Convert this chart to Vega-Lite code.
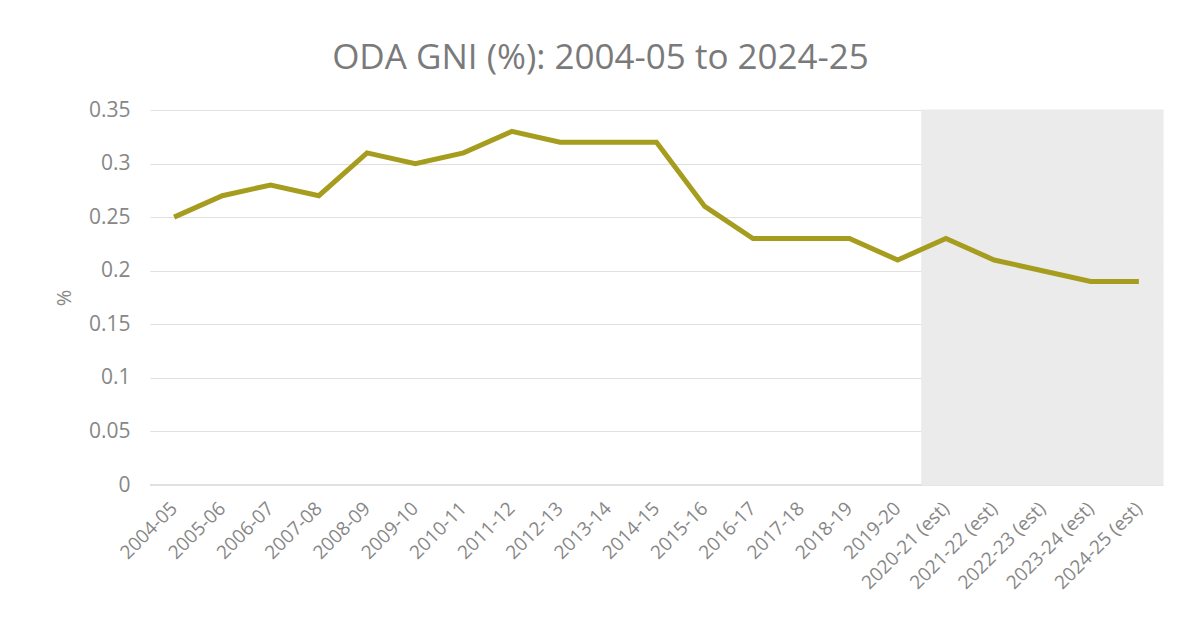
{
  "$schema": "https://vega.github.io/schema/vega-lite/v6.json",
  "width": 1013,
  "height": 375,
  "autosize": {"type": "none"},
  "padding": {"left": 150, "top": 110, "right": 28, "bottom": 147},
  "background": "white",
  "title": {
    "text": "ODA GNI (%): 2004-05 to 2024-25",
    "fontSize": 35,
    "font": "Open Sans",
    "fontWeight": "normal",
    "color": "#7a7a7a",
    "anchor": "middle",
    "dx": -56,
    "offset": 23
  },
  "config": {
    "view": {"stroke": null},
    "axis": {"labelFont": "Open Sans", "titleFont": "Open Sans", "labelColor": "#878787", "titleColor": "#878787"}
  },
  "data": {
    "values": [
      {"year": "2004-05", "value": 0.25, "est": false},
      {"year": "2005-06", "value": 0.27, "est": false},
      {"year": "2006-07", "value": 0.28, "est": false},
      {"year": "2007-08", "value": 0.27, "est": false},
      {"year": "2008-09", "value": 0.31, "est": false},
      {"year": "2009-10", "value": 0.30, "est": false},
      {"year": "2010-11", "value": 0.31, "est": false},
      {"year": "2011-12", "value": 0.33, "est": false},
      {"year": "2012-13", "value": 0.32, "est": false},
      {"year": "2013-14", "value": 0.32, "est": false},
      {"year": "2014-15", "value": 0.32, "est": false},
      {"year": "2015-16", "value": 0.26, "est": false},
      {"year": "2016-17", "value": 0.23, "est": false},
      {"year": "2017-18", "value": 0.23, "est": false},
      {"year": "2018-19", "value": 0.23, "est": false},
      {"year": "2019-20", "value": 0.21, "est": false},
      {"year": "2020-21 (est)", "value": 0.23, "est": true},
      {"year": "2021-22 (est)", "value": 0.21, "est": true},
      {"year": "2022-23 (est)", "value": 0.20, "est": true},
      {"year": "2023-24 (est)", "value": 0.19, "est": true},
      {"year": "2024-25 (est)", "value": 0.19, "est": true}
    ]
  },
  "encoding": {
    "x": {
      "field": "year",
      "type": "nominal",
      "sort": null,
      "scale": {
        "type": "band",
        "paddingInner": 0,
        "paddingOuter": 0,
        "domain": ["2004-05", "2005-06", "2006-07", "2007-08", "2008-09", "2009-10", "2010-11", "2011-12", "2012-13", "2013-14", "2014-15", "2015-16", "2016-17", "2017-18", "2018-19", "2019-20", "2020-21 (est)", "2021-22 (est)", "2022-23 (est)", "2023-24 (est)", "2024-25 (est)"]
      },
      "axis": {
        "title": null,
        "labelAngle": -45,
        "labelAlign": "right",
        "labelBaseline": "middle",
        "labelFontSize": 19,
        "labelPadding": 20,
        "ticks": false,
        "domain": false,
        "grid": false
      }
    }
  },
  "layer": [
    {
      "mark": {"type": "rule", "color": "#e0e0e0", "strokeWidth": 1.2},
      "encoding": {"x": null, "y": {"datum": 0, "type": "quantitative"}}
    },
    {
      "transform": [{"filter": "datum.est"}],
      "mark": {"type": "rect", "color": "#ebebeb", "stroke": "#ebebeb", "strokeWidth": 1},
      "encoding": {
        "y": {"datum": 0, "type": "quantitative"},
        "y2": {"datum": 0.35}
      }
    },
    {
      "mark": {"type": "line", "color": "#a69c1e", "strokeWidth": 5, "strokeJoin": "miter"},
      "encoding": {
        "x": {"field": "year", "type": "nominal", "sort": null, "bandPosition": 0.5},
        "y": {
          "field": "value",
          "type": "quantitative",
          "scale": {"domain": [0, 0.35], "nice": false},
          "axis": {
            "title": "%",
            "titleFontSize": 20,
            "titleFontWeight": "normal",
            "titlePadding": 14,
            "values": [0, 0.05, 0.1, 0.15, 0.2, 0.25, 0.3, 0.35],
            "labelFontSize": 21,
            "labelPadding": 20,
            "labelExpr": "datum.value",
            "ticks": false,
            "domain": false,
            "grid": true,
            "gridColor": "#e0e0e0",
            "gridWidth": 1.2
          }
        }
      }
    }
  ]
}
